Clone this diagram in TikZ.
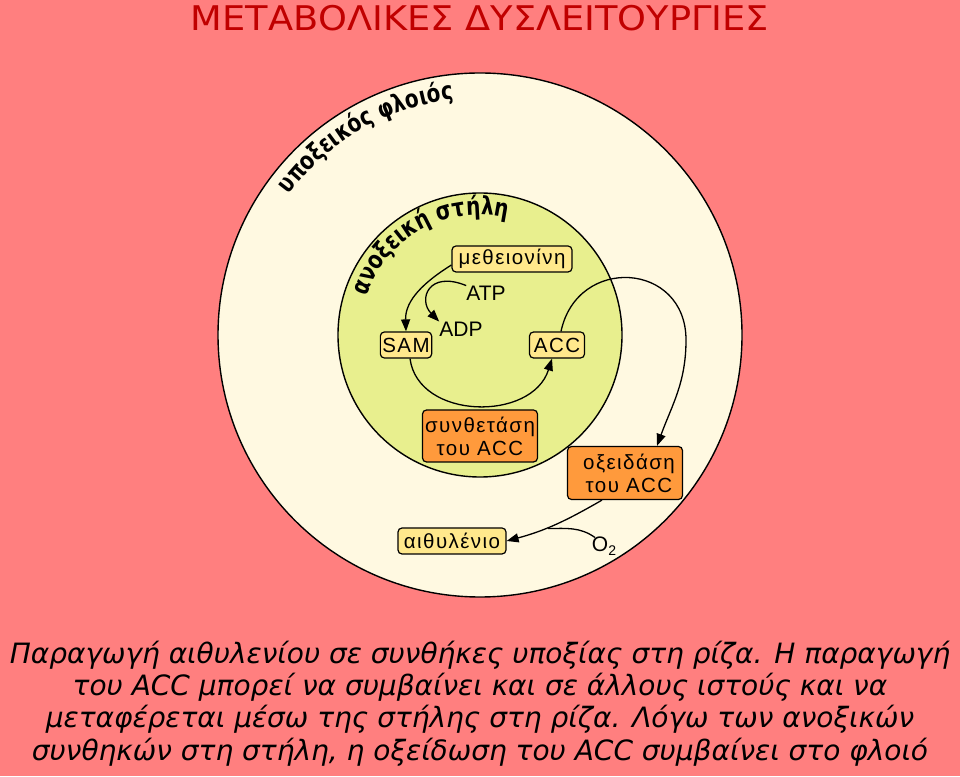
\documentclass[tikz,border=0pt]{standalone}
\usepackage{fontspec}
\usepackage{graphicx}
\setmainfont{Liberation Sans}
\newfontfamily\dvs{DejaVu Sans}
\newfontfamily\dvsn{DejaVu Sans}[FakeStretch=0.8]
\newfontfamily\labfont{Liberation Sans}[LetterSpace=7]
\usetikzlibrary{arrows.meta,decorations.text}
\definecolor{bgpink}{HTML}{FF7F7F}
\definecolor{cream}{HTML}{FFF9E1}
\definecolor{lime}{HTML}{E8EF8E}
\definecolor{boxy}{HTML}{FFE88C}
\definecolor{boxo}{HTML}{FF9A3C}
\definecolor{titlered}{HTML}{C00000}
\newcommand\curvefont{\dvsn\bfseries\fontsize{25}{25}\selectfont}
\begin{document}
\begin{tikzpicture}[x=1pt,y=1pt,
  lbox/.style={draw=black, line width=1.2pt, rounded corners=4pt, fill=boxy,
    font=\labfont\fontsize{20.5}{23}\selectfont, inner xsep=2pt, inner ysep=2pt,
    minimum height=26pt},
  obox/.style={lbox, fill=boxo, align=center},
  plain/.style={inner sep=0pt, font=\fontsize{21}{21}\selectfont},
  conn/.style={line width=1.3pt, draw=black},
  arr/.style={conn, -{Triangle[length=12pt,width=9pt]}}
]
\useasboundingbox (0,0) rectangle (960,776);
\fill[bgpink] (0,0) rectangle (960,776);
% circles
\coordinate (c) at (480,441);
\draw[line width=1.4pt, fill=cream] (c) circle[radius=262];
\draw[line width=1.4pt, fill=lime] (c) circle[radius=142];
% curved labels
\path[decorate, decoration={text along path, text align=center,
  text={|\curvefont|υποξεικός φλοιός}}]
  (c) ++(175:237) arc[start angle=175, end angle=65, radius=237];
\path[decorate, decoration={text along path, text align=center,
  text={|\curvefont|ανοξεική στήλη}}]
  (c) ++(175:120) arc[start angle=175, end angle=63, radius=120];
% title
\node[text=titlered, font=\dvs\fontsize{34}{40}\selectfont] (title) at (480,758)
  {\scalebox{1.08}[1]{ΜΕΤΑΒΟΛΙΚΕΣ ΔΥΣΛΕΙΤΟΥΡΓΙΕΣ}};
% nodes
\node[lbox, minimum width=120pt] (meth) at (512,517) {μεθειονίνη};
\node[lbox, minimum width=51pt] (sam) at (406,431) {SAM};
\node[lbox, minimum width=55pt] (acc) at (557,431) {ACC};
\node[plain] (atp) at (486,483) {ATP};
\node[plain] (adp) at (461,447) {ADP};
\node[obox, minimum width=115pt, minimum height=52pt] (synth) at (480,340) {συνθετάση\\του ACC};
\node[obox, minimum width=115pt, minimum height=53pt] (oxid) at (625,303) {\hspace*{8pt}οξειδάση\\\hspace*{8pt}του ACC};
\node[lbox, minimum width=108pt] (ethyl) at (452,235) {αιθυλένιο};
\node[plain] (o2) at (604,230) {O\raisebox{-4pt}{\fontsize{14}{14}\selectfont 2}};
% connectors
\draw[arr] ([yshift=-6pt]meth.west) to[out=212,in=92] (sam.north);
\draw[arr] (atp.north west) .. controls (428,506) and (418,476) .. (adp.north west);
\draw[arr] ([xshift=4pt]sam.south) .. controls (418,356) and (532,354) .. ([xshift=-5pt]acc.south);
\coordinate (r1) at (686,436);
\draw[arr] ([xshift=4pt]acc.north) to[out=78,in=90,looseness=1.6] (r1) to[out=-90,in=70] ([xshift=32pt]oxid.north);
\draw[arr] ([xshift=-23pt]oxid.south) to[out=210,in=15] (ethyl.east);
\coordinate (j) at (548,247.5);
\draw[conn] ([xshift=-9pt,yshift=-1pt]o2.north) to[out=145,in=0] (j);
% caption
\node[font=\dvs\itshape\fontsize{28}{32.3}\selectfont, align=center] (cap) at (480,72.5)
  {Παραγωγή αιθυλενίου σε συνθήκες υποξίας στη ρίζα. Η παραγωγή\\
   του ACC μπορεί να συμβαίνει και σε άλλους ιστούς και να\\
   μεταφέρεται μέσω της στήλης στη ρίζα. Λόγω των ανοξικών\\
   συνθηκών στη στήλη, η οξείδωση του ACC συμβαίνει στο φλοιό};
\end{tikzpicture}
\end{document}
